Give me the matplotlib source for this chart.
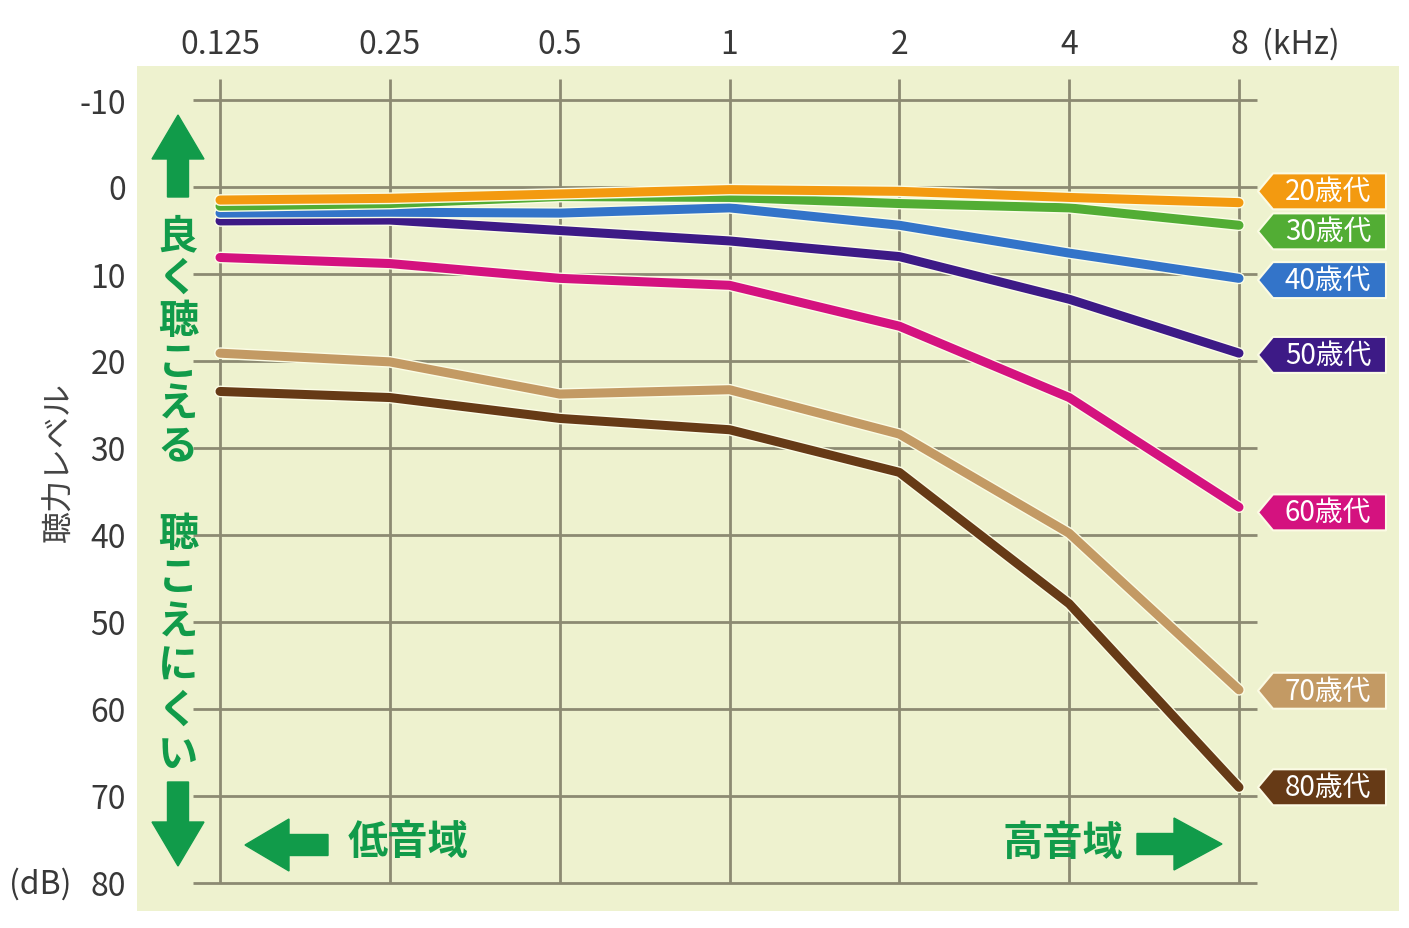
import matplotlib.pyplot as plt
import matplotlib.patheffects as pe
from matplotlib.patches import Polygon
import numpy as np

plt.rcParams['font.family'] = ['Noto Sans CJK JP', 'DejaVu Sans']

# data
freq_labels = ['0.125', '0.25', '0.5', '1', '2', '4', '8']
ages = ['20歳代', '30歳代', '40歳代', '50歳代', '60歳代', '70歳代', '80歳代']
age20 = [1.5, 1.3, 0.8, 0.3, 0.5, 1.2, 1.8]
age30 = [2.2, 1.9, 1.1, 1.2, 1.9, 2.4, 4.4]
age40 = [3.0, 2.9, 3.0, 2.4, 4.4, 7.6, 10.5]
age50 = [3.9, 3.8, 5.0, 6.2, 8.0, 12.9, 19.1]
age60 = [8.1, 8.8, 10.5, 11.3, 16.0, 24.2, 36.8]
age70 = [19.1, 20.1, 23.8, 23.3, 28.4, 39.8, 57.8]
age80 = [23.5, 24.2, 26.6, 27.9, 32.8, 47.9, 69.0]
db_ticks = [-10, 0, 10, 20, 30, 40, 50, 60, 70, 80]

series = [age20, age30, age40, age50, age60, age70, age80]
colors = ['#f39a10', '#52ad34', '#3374c9', '#3d1a86', '#d4127f', '#c39a64', '#663a16']
tag_shift = [-1.3, 0.7, 0.2, 0.2, 0.6, 0.1, 0.0]

W, H = 1409, 929
fig = plt.figure(figsize=(W / 100, H / 100), dpi=100)
L, R, T, B = 137, 1399, 67, 912
ax = fig.add_axes([L / W, 1 - B / H, (R - L) / W, (B - T) / H])
ax.set_facecolor('#eef2cf')
for s in ax.spines.values():
    s.set_visible(False)

x = np.arange(len(freq_labels))
pxx = (1239 - 220) / 6
pxy = (884 - 101) / 90
ax.set_xlim(-(220 - L) / pxx, 6 + (R - 1239) / pxx)
ax.set_ylim(80 + (B - 884) / pxy, -10 - (101 - T) / pxy)

grid_c = '#8c8a72'
ax.hlines(db_ticks, -(220 - 193) / pxx, 6 + (1257 - 1239) / pxx, color=grid_c, lw=2, zorder=1)
ax.vlines(x, -10 - (101 - 80) / pxy, 80, color=grid_c, lw=2, zorder=1)

for vals, c in list(zip(series, colors))[::-1]:
    ax.plot(x, vals, color=c, lw=6.5, solid_capstyle='round', solid_joinstyle='round', zorder=3,
            path_effects=[pe.Stroke(linewidth=8.5, foreground='#fbfde6'), pe.Normal()])

ax.xaxis.tick_top()
ax.set_xticks(x)
ax.set_xticklabels(freq_labels, fontsize=23, color='#383838')
ax.set_yticks(db_ticks)
ax.set_yticklabels([str(v) for v in db_ticks], fontsize=23, color='#383838')
ax.tick_params(length=0)
ax.tick_params(axis='x', pad=4)
ax.tick_params(axis='y', pad=8)

# overlay in pixel coordinates for annotations
ov = fig.add_axes([0, 0, 1, 1], zorder=5)
ov.set_xlim(0, W)
ov.set_ylim(H, 0)
ov.axis('off')
ov.patch.set_alpha(0)

ov.text(1262, 44, '(kHz)', fontsize=23, color='#383838', ha='left', va='center')
ov.text(40, 884, '(dB)', fontsize=23, color='#383838', ha='center', va='center')
ov.text(60, 462, '聴力レベル', fontsize=23, color='#444444', rotation=90, ha='center', va='center')

green = '#119b4a'


def arrow(x0, y0, x1, y1, shaft=21, head_w=52, head_l=44):
    d = np.array([x1 - x0, y1 - y0], dtype=float)
    n = np.linalg.norm(d)
    u = d / n
    p = np.array([-u[1], u[0]])
    s = np.array([x0, y0], dtype=float)
    hb = s + u * (n - head_l)
    tip = np.array([x1, y1], dtype=float)
    pts = [s + p * shaft / 2, hb + p * shaft / 2, hb + p * head_w / 2, tip,
           hb - p * head_w / 2, hb - p * shaft / 2, s - p * shaft / 2]
    ov.add_patch(Polygon(pts, closed=True, fc=green, ec=green, lw=1, zorder=6))


arrow(178, 198, 178, 116)
arrow(178, 783, 178, 867)
arrow(328, 846, 245, 846)
arrow(1137, 845, 1222, 845, head_l=48)

for i, ch in enumerate('良く聴こえる'):
    ov.text(178, 237 + i * 42, ch, fontsize=29, fontweight='bold', color=green, ha='center', va='center')
for i, ch in enumerate('聴こえにくい'):
    ov.text(178, 535 + i * 44, ch, fontsize=29, fontweight='bold', color=green, ha='center', va='center')
ov.text(348, 843, '低音域', fontsize=29, fontweight='bold', color=green, ha='left', va='center')
ov.text(1123, 843, '高音域', fontsize=29, fontweight='bold', color=green, ha='right', va='center')

# age tags at the line ends
fig.canvas.draw()
for vals, c, name, sh in zip(series, colors, ages, tag_shift):
    ty = H - ax.transData.transform((6, vals[-1] + sh))[1]
    hh = 18
    pts = [(1258, ty), (1273, ty - hh), (1386, ty - hh), (1386, ty + hh), (1273, ty + hh)]
    ov.add_patch(Polygon(pts, closed=True, fc=c, ec='#fbfbe4', lw=1.5, joinstyle='round', zorder=6))
    ov.text(1328, ty, name, fontsize=20, color='white', ha='center', va='center', zorder=7)

fig.savefig('out.png', dpi=100, facecolor='white')
